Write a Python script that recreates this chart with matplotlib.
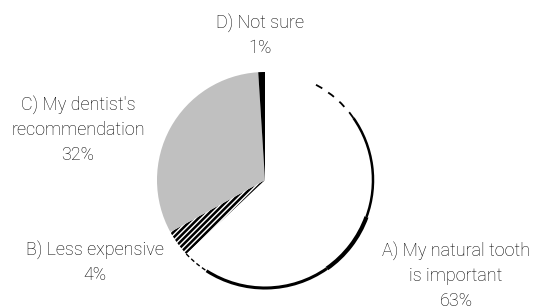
import matplotlib
matplotlib.use("Agg")
import matplotlib.pyplot as plt
from matplotlib.patches import Arc

categories = ["A) My natural tooth\nis important", "B) Less expensive",
              "C) My dentist's\nrecommendation", "D) Not sure"]
values = [63, 4, 32, 1]
pct_labels = ["63%", "4%", "32%", "1%"]

plt.rcParams['hatch.linewidth'] = 1.8
plt.rcParams['font.family'] = ['Roboto', 'DejaVu Sans']

W, H = 535, 308
fig = plt.figure(figsize=(W / 100, H / 100), dpi=100)
ax = fig.add_axes([0, 0, 1, 1])

cx, cy, r = 265, H - 180, 108
colors = ["white", "white", "#c0c0c0", "black"]
wedges, _ = ax.pie(values, colors=colors, startangle=90, counterclock=False,
                   center=(cx, cy), radius=r,
                   wedgeprops=dict(linewidth=0, edgecolor="black"))
wedges[1].set_hatch("/" * 6)
wedges[1].set_edgecolor("black")
wedges[1].set_linewidth(0)

# uneven black rim on slice A, as in the reference
wa = wedges[0]
t1 = wa.theta1
ax.add_patch(Arc((cx, cy), 2 * r, 2 * r, theta1=t1, theta2=t1 + 14, lw=1.0, color="black",
                 linestyle=(0, (3, 2))))
ax.add_patch(Arc((cx, cy), 2 * r, 2 * r, theta1=t1 + 14, theta2=-55, lw=2.2, color="black"))
ax.add_patch(Arc((cx, cy), 2 * r, 2 * r, theta1=-55, theta2=-20, lw=3.0, color="black"))
ax.add_patch(Arc((cx, cy), 2 * r, 2 * r, theta1=-20, theta2=35, lw=1.8, color="black"))
ax.add_patch(Arc((cx, cy), 2 * r, 2 * r, theta1=35, theta2=62, lw=1.3, color="black",
                 linestyle=(0, (4, 4))))

ax.set_xlim(0, W)
ax.set_ylim(0, H)
ax.set_aspect("equal")
ax.axis("off")

fs = 13

def put(i, x, yc):
    ax.text(x, H - yc, categories[i] + "\n" + pct_labels[i], ha="center", va="center",
            fontsize=fs, fontweight="light", color="black", linespacing=1.5)

put(3, 260, 35)
put(2, 78, 130)
put(1, 95, 262)
put(0, 456, 276)

fig.savefig("out.png", dpi=100)
